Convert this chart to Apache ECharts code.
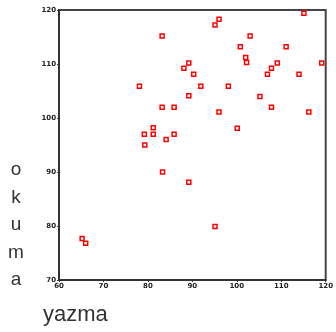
<!DOCTYPE html>
<html><head><meta charset="utf-8">
<script src="https://cdn.jsdelivr.net/npm/echarts@6/dist/echarts.min.js"></script>
<style>html,body{margin:0;padding:0;background:#fff}#c{width:336px;height:332px}</style>
</head><body><div id="c"></div>
<script>
const yazma = [83.2, 78.1, 88.1, 89.2, 90.3, 91.9, 89.2, 83.2, 85.9, 79.2, 81.2, 81.2, 84.1, 85.9, 79.3, 83.3, 89.2, 65.2, 66.0, 100.1, 95.1, 115.1, 96.0, 95.1, 103.0, 100.8, 111.1, 102.0, 102.2, 109.1, 119.1, 107.8, 106.9, 114.0, 98.1, 105.2, 107.8, 96.0, 116.2];
const okuma = [115.2, 105.9, 109.2, 110.2, 108.1, 105.9, 104.1, 102.0, 102.0, 97.0, 98.2, 97.0, 96.0, 97.0, 95.0, 90.0, 88.1, 77.7, 76.8, 98.1, 79.9, 119.4, 118.3, 117.2, 115.2, 113.2, 113.2, 111.2, 110.3, 110.2, 110.2, 109.2, 108.1, 108.1, 105.9, 104.0, 102.0, 101.1, 101.1];
const xTicks = [60, 70, 80, 90, 100, 110, 120];
const yTicks = [70, 80, 90, 100, 110, 120];
const xTitle = 'yazma';
const yTitle = 'okuma';

const chart = echarts.init(document.getElementById('c'));
const points = yazma.map((v, i) => [v, okuma[i]]);
const tickLabel = {fontSize: 7, fontWeight: 'bold', color: '#222', fontFamily: 'DejaVu Sans'};
chart.setOption({
  animation: false,
  grid: {left: 59, top: 10, right: 3, bottom: 52, show: true, borderColor: '#444', borderWidth: 2, backgroundColor: '#fff'},
  xAxis: {type: 'value', min: xTicks[0], max: xTicks[xTicks.length - 1], interval: 10,
    axisLine: {show: true, lineStyle: {color: '#333', width: 2}},
    axisTick: {show: true, length: 2, lineStyle: {color: '#333'}},
    axisLabel: Object.assign({margin: 3}, tickLabel),
    splitLine: {show: false}},
  yAxis: {type: 'value', min: yTicks[0], max: yTicks[yTicks.length - 1], interval: 10,
    axisLine: {show: true, lineStyle: {color: '#333', width: 2}},
    axisTick: {show: true, length: 2, lineStyle: {color: '#333'}},
    axisLabel: Object.assign({margin: 3}, tickLabel),
    splitLine: {show: false}},
  series: [{type: 'scatter', data: points, symbol: 'rect', symbolSize: 4,
    itemStyle: {color: '#fff', borderColor: '#ff0000', borderWidth: 1.5, opacity: 1}}],
  graphic: [
    {type: 'text', left: 43, top: 304, style: {text: xTitle, fontSize: 22, fill: '#333', fontFamily: 'Liberation Sans'}},
  ].concat(yTitle.split('').map((ch, i) => ({
    type: 'text', x: 16, y: 170 + i * 27.5,
    style: {text: ch, fontSize: 19, fill: '#333', fontFamily: 'Liberation Sans', align: 'center', verticalAlign: 'middle'}
  })))
});
</script></body></html>
